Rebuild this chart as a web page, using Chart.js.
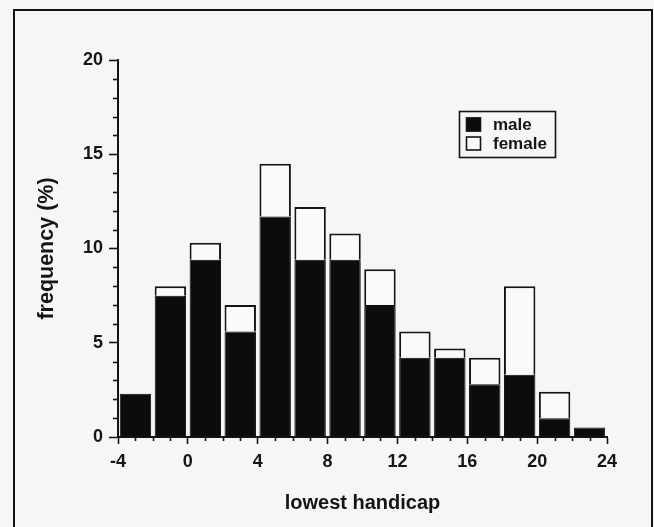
<!DOCTYPE html>
<html>
<head>
<meta charset="utf-8">
<script src="https://cdn.jsdelivr.net/npm/chart.js@4/dist/chart.umd.min.js"></script>
<style>
  html, body { margin: 0; padding: 0; background: #f6f6f4; }
  #wrap { position: absolute; left: 0; top: 0; width: 654px; height: 527px; overflow: hidden; }
  #box { position: absolute; left: 0; top: 0; width: 654px; height: 527px; }
  #frame { position: absolute; left: 13px; top: 9px; width: 636px; height: 540px; border: 2px solid #151515; pointer-events: none; }
</style>
</head>
<body>
<div id="wrap">
  <div id="box"><canvas id="c"></canvas></div>
  <div id="frame"></div>
</div>
<script>
// Bin centres (lowest handicap, bins of width 2 from -4 to 24)
const binCenters = [-3, -1, 1, 3, 5, 7, 9, 11, 13, 15, 17, 19, 21, 23];
// Frequency (%) by sex, stacked
const maleValues   = [2.3, 7.5, 9.4, 5.6, 11.7, 9.4, 9.4, 7.0, 4.2, 4.2, 2.8, 3.3, 1.0, 0.5];
const femaleValues = [0,   0.5, 0.9, 1.4, 2.8,  2.8, 1.4, 1.9, 1.4, 0.5, 1.4, 4.7, 1.4, 0];
const xTickLabels = [-4, 0, 4, 8, 12, 16, 20, 24];
const yTickLabels = [0, 5, 10, 15, 20];
const seriesNames = ['male', 'female'];

const FONT = "'Liberation Sans', Arial, Helvetica, sans-serif";
const INK = '#151515';
const CLEAR = 'rgba(0,0,0,0)';

const minorTicks = {
  id: 'minorTicks',
  afterDraw(chart) {
    const ctx = chart.ctx;
    const xs = chart.scales.x, ys = chart.scales.y;
    ctx.save();
    ctx.strokeStyle = INK;
    ctx.lineWidth = 1.6;
    for (let v = xs.min; v <= xs.max; v++) {
      if (xTickLabels.includes(v)) continue;
      const px = Math.round(xs.getPixelForValue(v)) + 0.5;
      ctx.beginPath(); ctx.moveTo(px, xs.top); ctx.lineTo(px, xs.top + 4); ctx.stroke();
    }
    for (let v = ys.min; v <= ys.max; v++) {
      if (yTickLabels.includes(v)) continue;
      const py = Math.round(ys.getPixelForValue(v)) + 0.5;
      ctx.beginPath(); ctx.moveTo(ys.right, py); ctx.lineTo(ys.right - 5, py); ctx.stroke();
    }
    ctx.restore();
  }
};

const boxLegend = {
  id: 'boxLegend',
  afterDraw(chart) {
    const ctx = chart.ctx;
    const ds = chart.data.datasets;
    ctx.save();
    ctx.strokeStyle = INK;
    ctx.lineWidth = 1.6;
    ctx.strokeRect(459.5, 111.5, 96, 46);
    ctx.font = "bold 17px " + FONT;
    ctx.textBaseline = 'middle';
    const rows = [124.5, 143.5];
    ds.forEach((d, i) => {
      const y = rows[i];
      ctx.fillStyle = d.backgroundColor;
      ctx.fillRect(466, y - 7, 15, 14);
      ctx.strokeStyle = INK;
      ctx.lineWidth = 1.6;
      ctx.strokeRect(466.5, y - 6.5, 14, 13);
      ctx.fillStyle = INK;
      ctx.fillText(d.label, 493, y + 1);
    });
    ctx.restore();
  }
};

function tickCol(list) {
  return (c) => (c && c.tick && list.includes(c.tick.value) ? INK : CLEAR);
}

new Chart(document.getElementById('c'), {
  type: 'bar',
  data: {
    datasets: [
      {
        label: seriesNames[0],
        data: binCenters.map((x, i) => ({ x: x, y: maleValues[i] })),
        backgroundColor: '#0c0c0c',
        borderColor: '#0c0c0c',
        borderWidth: 1,
        barPercentage: 1.8,
        categoryPercentage: 1.0
      },
      {
        label: seriesNames[1],
        data: binCenters.map((x, i) => ({ x: x, y: femaleValues[i] })),
        backgroundColor: '#fafafa',
        borderColor: INK,
        borderWidth: (c) => (c && c.raw && c.raw.y > 0 ? 2 : 0),
        barPercentage: 1.8,
        categoryPercentage: 1.0
      }
    ]
  },
  options: {
    responsive: true,
    maintainAspectRatio: false,
    animation: false,
    layout: { padding: { left: 0, right: 47, top: 60, bottom: 0 } },
    plugins: { legend: { display: false }, tooltip: { enabled: false } },
    scales: {
      x: {
        type: 'linear',
        stacked: true,
        min: -4, max: 24,
        offset: false,
        afterFit(s) { s.height = 90; },
        border: { display: true, color: INK, width: 2 },
        grid: {
          offset: false,
          drawOnChartArea: false, drawTicks: true, tickLength: 7,
          tickColor: tickCol(xTickLabels),
          tickWidth: 1.6
        },
        ticks: {
          stepSize: 1, autoSkip: false, maxRotation: 0, padding: 7,
          color: INK,
          font: { family: FONT, size: 18, weight: 'bold' },
          callback: (v) => (xTickLabels.includes(v) ? String(v) : '')
        },
        title: {
          display: true, text: 'lowest handicap', color: INK,
          font: { family: FONT, size: 20, weight: 'bold' },
          padding: { top: 0, bottom: 12 }
        }
      },
      y: {
        stacked: true,
        min: 0, max: 20,
        afterFit(s) { s.width = 118; },
        border: { display: true, color: INK, width: 2 },
        grid: {
          drawOnChartArea: false, drawTicks: true, tickLength: 9,
          tickColor: tickCol(yTickLabels),
          tickWidth: 1.6
        },
        ticks: {
          stepSize: 1, autoSkip: false, padding: 6,
          color: INK,
          font: { family: FONT, size: 18, weight: 'bold' },
          callback: (v) => (yTickLabels.includes(v) ? String(v) : '')
        },
        title: {
          display: true, text: 'frequency (%)', color: INK,
          font: { family: FONT, size: 21.5, weight: 'bold' },
          padding: { top: 34, bottom: 0 }
        }
      }
    }
  },
  plugins: [minorTicks, boxLegend]
});
</script>
</body>
</html>
